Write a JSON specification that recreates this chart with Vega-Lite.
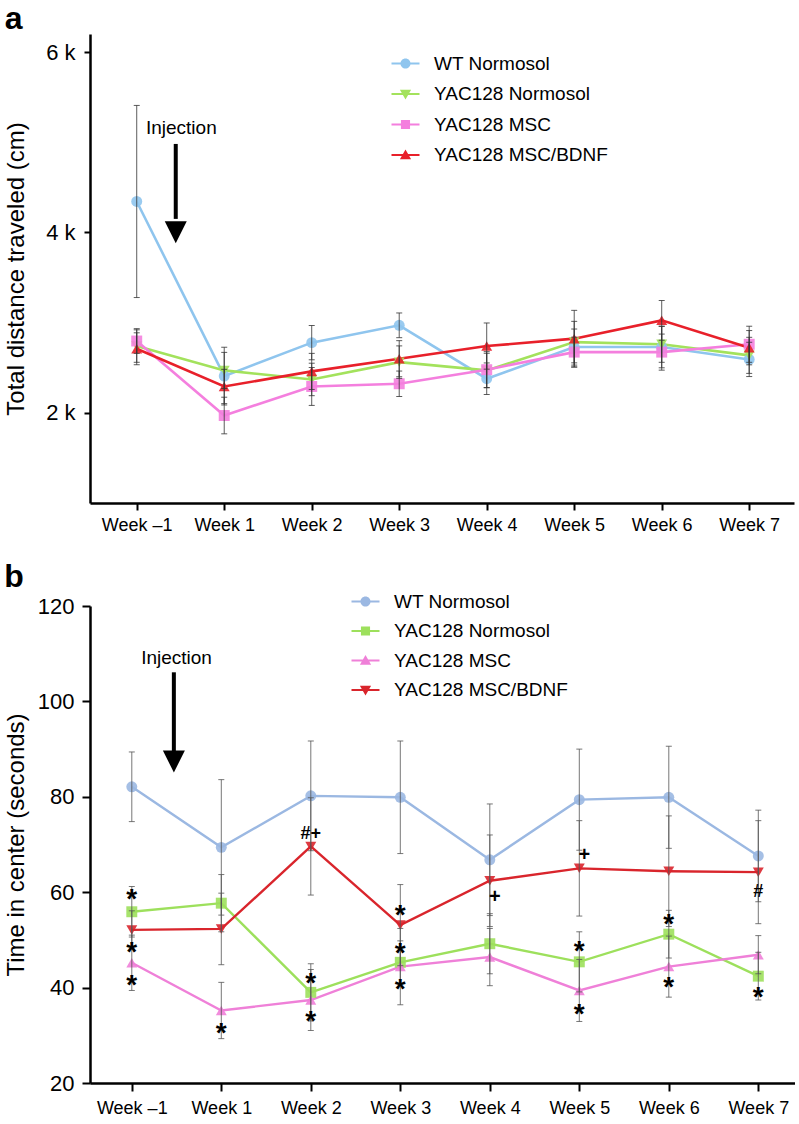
{
  "$schema": "https://vega.github.io/schema/vega-lite/v6.json",
  "padding": {"left": 4, "top": 3, "right": 0, "bottom": 0},
  "config": {
    "font": "Liberation Sans",
    "view": {"stroke": null},
    "axis": {"grid": false, "domainColor": "black", "domainWidth": 2.5, "tickColor": "black", "tickWidth": 2, "labelColor": "black", "titleColor": "black", "titleFontWeight": "normal", "labelFont": "Liberation Sans", "titleFont": "Liberation Sans"},
    "legend": {"labelFont": "Liberation Sans", "labelColor": "black", "labelLimit": 0}
  },
  "datasets": {
    "a": [
      {"wk": 0, "s": "WT Normosol", "v": 4343, "lo": 3278, "hi": 5408},
      {"wk": 1, "s": "WT Normosol", "v": 2407, "lo": 2087, "hi": 2727},
      {"wk": 2, "s": "WT Normosol", "v": 2778, "lo": 2588, "hi": 2968},
      {"wk": 3, "s": "WT Normosol", "v": 2970, "lo": 2833, "hi": 3107},
      {"wk": 4, "s": "WT Normosol", "v": 2378, "lo": 2203, "hi": 2553},
      {"wk": 5, "s": "WT Normosol", "v": 2729, "lo": 2529, "hi": 2929},
      {"wk": 6, "s": "WT Normosol", "v": 2729, "lo": 2499, "hi": 2959},
      {"wk": 7, "s": "WT Normosol", "v": 2592, "lo": 2402, "hi": 2782},
      {"wk": 0, "s": "YAC128 Normosol", "v": 2740, "lo": 2560, "hi": 2920},
      {"wk": 1, "s": "YAC128 Normosol", "v": 2470, "lo": 2270, "hi": 2670},
      {"wk": 2, "s": "YAC128 Normosol", "v": 2370, "lo": 2190, "hi": 2550},
      {"wk": 3, "s": "YAC128 Normosol", "v": 2562, "lo": 2382, "hi": 2742},
      {"wk": 4, "s": "YAC128 Normosol", "v": 2470, "lo": 2280, "hi": 2660},
      {"wk": 5, "s": "YAC128 Normosol", "v": 2784, "lo": 2554, "hi": 3014},
      {"wk": 6, "s": "YAC128 Normosol", "v": 2760, "lo": 2560, "hi": 2960},
      {"wk": 7, "s": "YAC128 Normosol", "v": 2637, "lo": 2437, "hi": 2837},
      {"wk": 0, "s": "YAC128 MSC", "v": 2796, "lo": 2659, "hi": 2933},
      {"wk": 1, "s": "YAC128 MSC", "v": 1970, "lo": 1767, "hi": 2173},
      {"wk": 2, "s": "YAC128 MSC", "v": 2292, "lo": 2082, "hi": 2502},
      {"wk": 3, "s": "YAC128 MSC", "v": 2322, "lo": 2181, "hi": 2463},
      {"wk": 4, "s": "YAC128 MSC", "v": 2478, "lo": 2278, "hi": 2678},
      {"wk": 5, "s": "YAC128 MSC", "v": 2673, "lo": 2507, "hi": 2839},
      {"wk": 6, "s": "YAC128 MSC", "v": 2673, "lo": 2473, "hi": 2873},
      {"wk": 7, "s": "YAC128 MSC", "v": 2760, "lo": 2560, "hi": 2960},
      {"wk": 0, "s": "YAC128 MSC/BDNF", "v": 2710, "lo": 2533, "hi": 2887},
      {"wk": 1, "s": "YAC128 MSC/BDNF", "v": 2292, "lo": 2102, "hi": 2482},
      {"wk": 2, "s": "YAC128 MSC/BDNF", "v": 2459, "lo": 2259, "hi": 2659},
      {"wk": 3, "s": "YAC128 MSC/BDNF", "v": 2600, "lo": 2400, "hi": 2800},
      {"wk": 4, "s": "YAC128 MSC/BDNF", "v": 2740, "lo": 2484, "hi": 2996},
      {"wk": 5, "s": "YAC128 MSC/BDNF", "v": 2822, "lo": 2508, "hi": 3136},
      {"wk": 6, "s": "YAC128 MSC/BDNF", "v": 3025, "lo": 2805, "hi": 3245},
      {"wk": 7, "s": "YAC128 MSC/BDNF", "v": 2722, "lo": 2532, "hi": 2912}
    ],
    "b": [
      {"wk": 0, "s": "WT Normosol", "v": 82.1, "lo": 74.8, "hi": 89.4},
      {"wk": 1, "s": "WT Normosol", "v": 69.4, "lo": 55.2, "hi": 83.6},
      {"wk": 2, "s": "WT Normosol", "v": 80.2, "lo": 68.7, "hi": 91.7},
      {"wk": 3, "s": "WT Normosol", "v": 79.9, "lo": 68.1, "hi": 91.7},
      {"wk": 4, "s": "WT Normosol", "v": 66.8, "lo": 55.1, "hi": 78.5},
      {"wk": 5, "s": "WT Normosol", "v": 79.4, "lo": 68.8, "hi": 90.0},
      {"wk": 6, "s": "WT Normosol", "v": 79.9, "lo": 69.2, "hi": 90.6},
      {"wk": 7, "s": "WT Normosol", "v": 67.6, "lo": 58.0, "hi": 77.2},
      {"wk": 0, "s": "YAC128 Normosol", "v": 55.9, "lo": 50.6, "hi": 61.2},
      {"wk": 1, "s": "YAC128 Normosol", "v": 57.7, "lo": 51.7, "hi": 63.7},
      {"wk": 2, "s": "YAC128 Normosol", "v": 39.0, "lo": 33.0, "hi": 45.0},
      {"wk": 3, "s": "YAC128 Normosol", "v": 45.3, "lo": 40.8, "hi": 49.8},
      {"wk": 4, "s": "YAC128 Normosol", "v": 49.2, "lo": 42.9, "hi": 55.5},
      {"wk": 5, "s": "YAC128 Normosol", "v": 45.4, "lo": 39.1, "hi": 51.7},
      {"wk": 6, "s": "YAC128 Normosol", "v": 51.2, "lo": 46.2, "hi": 56.2},
      {"wk": 7, "s": "YAC128 Normosol", "v": 42.4, "lo": 37.4, "hi": 47.4},
      {"wk": 0, "s": "YAC128 MSC", "v": 45.2, "lo": 39.4, "hi": 51.0},
      {"wk": 1, "s": "YAC128 MSC", "v": 35.2, "lo": 29.3, "hi": 41.1},
      {"wk": 2, "s": "YAC128 MSC", "v": 37.4, "lo": 31.0, "hi": 43.8},
      {"wk": 3, "s": "YAC128 MSC", "v": 44.4, "lo": 36.4, "hi": 52.4},
      {"wk": 4, "s": "YAC128 MSC", "v": 46.4, "lo": 40.4, "hi": 52.4},
      {"wk": 5, "s": "YAC128 MSC", "v": 39.4, "lo": 32.9, "hi": 45.9},
      {"wk": 6, "s": "YAC128 MSC", "v": 44.4, "lo": 38.0, "hi": 50.8},
      {"wk": 7, "s": "YAC128 MSC", "v": 46.9, "lo": 42.9, "hi": 50.9},
      {"wk": 0, "s": "YAC128 MSC/BDNF", "v": 52.1, "lo": 48.1, "hi": 56.1},
      {"wk": 1, "s": "YAC128 MSC/BDNF", "v": 52.3, "lo": 44.8, "hi": 59.8},
      {"wk": 2, "s": "YAC128 MSC/BDNF", "v": 69.6, "lo": 59.4, "hi": 79.8},
      {"wk": 3, "s": "YAC128 MSC/BDNF", "v": 53.1, "lo": 44.6, "hi": 61.6},
      {"wk": 4, "s": "YAC128 MSC/BDNF", "v": 62.4, "lo": 52.8, "hi": 72.0},
      {"wk": 5, "s": "YAC128 MSC/BDNF", "v": 65.0, "lo": 55.0, "hi": 75.0},
      {"wk": 6, "s": "YAC128 MSC/BDNF", "v": 64.4, "lo": 52.8, "hi": 76.0},
      {"wk": 7, "s": "YAC128 MSC/BDNF", "v": 64.2, "lo": 53.4, "hi": 75.0}
    ],
    "arrowA": [{"wk": 0.446, "top": 4981, "base": 4150, "head": 4003}],
    "textA": [{"wk": 0.51, "y": 5159, "t": "Injection"}],
    "arrowB": [{"wk": 0.47, "top": 106.1, "base": 89.5, "head": 87.4}],
    "textB": [{"wk": 0.5, "y": 109.0, "t": "Injection"}],
    "starsB": [
      {"wk": 0, "y": 60.0}, {"wk": 0, "y": 49.0}, {"wk": 0, "y": 42.0},
      {"wk": 1, "y": 32.0},
      {"wk": 2, "y": 42.4}, {"wk": 2, "y": 34.5},
      {"wk": 3, "y": 56.6}, {"wk": 3, "y": 48.7}, {"wk": 3, "y": 41.1},
      {"wk": 5, "y": 49.2}, {"wk": 5, "y": 35.9},
      {"wk": 6, "y": 54.8}, {"wk": 6, "y": 41.6},
      {"wk": 7, "y": 39.4}
    ],
    "symB": [{"wk": 2, "y": 72.5, "t": "#+"}, {"wk": 7, "y": 60.3, "t": "#"}],
    "plusB": [{"wk": 4, "y": 59.3, "t": "+"}, {"wk": 5, "y": 68.1, "t": "+"}]
  },
  "concat": [
    {
      "width": 704,
      "height": 469,
      "title": {"text": "a", "anchor": "start", "frame": "bounds", "fontSize": 32, "fontWeight": "bold", "font": "Liberation Sans", "color": "black", "baseline": "alphabetic", "offset": -27, "dx": 0},
      "encoding": {
        "x": {"field": "wk", "type": "quantitative", "scale": {"domain": [-0.534, 7.512], "nice": false, "zero": false},
          "axis": {"title": null, "values": [0, 1, 2, 3, 4, 5, 6, 7], "labelExpr": "datum.value == 0 ? 'Week \u20131' : 'Week ' + datum.value", "labelFontSize": 18, "tickSize": 7, "labelPadding": 6, "labelFlush": false}}
      },
      "resolve": {"scale": {"shape": "independent", "color": "independent"}},
      "layer": [
        {
          "data": {"name": "a"},
          "mark": {"type": "line", "strokeWidth": 2.6},
          "encoding": {
            "y": {"field": "v", "type": "quantitative", "scale": {"domain": [1000, 6200], "nice": false, "zero": false},
              "axis": {"title": "Total distance traveled (cm)", "titleFontSize": 24, "titlePadding": 17, "values": [2000, 4000, 6000], "labelExpr": "(datum.value/1000) + ' k'", "labelFontSize": 22, "tickSize": 6, "labelPadding": 9}},
            "color": {"field": "s", "type": "nominal", "legend": null,
              "scale": {"domain": ["WT Normosol", "YAC128 Normosol", "YAC128 MSC", "YAC128 MSC/BDNF"], "range": ["#8fc5ee", "#a3e25c", "#f47fde", "#e8202a"]}},
            "detail": {"field": "s"}
          }
        },
        {
          "data": {"name": "a"},
          "mark": {"type": "point", "filled": true, "size": 120, "opacity": 0.9},
          "encoding": {
            "y": {"field": "v", "type": "quantitative"},
            "color": {"field": "s", "type": "nominal", "legend": null,
              "scale": {"domain": ["WT Normosol", "YAC128 Normosol", "YAC128 MSC", "YAC128 MSC/BDNF"], "range": ["#8fc5ee", "#a3e25c", "#f47fde", "#e8202a"]}},
            "shape": {"field": "s", "type": "nominal", "legend": null,
              "scale": {"domain": ["WT Normosol", "YAC128 Normosol", "YAC128 MSC", "YAC128 MSC/BDNF"], "range": ["circle", "triangle-down", "square", "triangle-up"]}}
          }
        },
        {
          "data": {"name": "a"},
          "mark": {"type": "rule", "color": "#333333", "strokeWidth": 1, "opacity": 0.8},
          "encoding": {"y": {"field": "lo", "type": "quantitative"}, "y2": {"field": "hi"}}
        },
        {
          "data": {"name": "a"},
          "mark": {"type": "tick", "orient": "horizontal", "color": "#333333", "size": 6, "thickness": 1, "opacity": 0.8},
          "encoding": {"y": {"field": "lo", "type": "quantitative"}}
        },
        {
          "data": {"name": "a"},
          "mark": {"type": "tick", "orient": "horizontal", "color": "#333333", "size": 6, "thickness": 1, "opacity": 0.8},
          "encoding": {"y": {"field": "hi", "type": "quantitative"}}
        },
        {
          "data": {"name": "arrowA"},
          "mark": {"type": "rule", "color": "black", "strokeWidth": 4},
          "encoding": {"y": {"field": "top", "type": "quantitative"}, "y2": {"field": "base"}}
        },
        {
          "data": {"name": "arrowA"},
          "mark": {"type": "point", "filled": true, "color": "black", "opacity": 1, "size": 484, "shape": "M-1,-1L1,-1L0,1Z"},
          "encoding": {"y": {"field": "head", "type": "quantitative"}}
        },
        {
          "data": {"name": "textA"},
          "mark": {"type": "text", "fontSize": 19, "color": "black", "align": "center", "baseline": "middle"},
          "encoding": {"y": {"field": "y", "type": "quantitative"}, "text": {"field": "t"}}
        },
        {
          "data": {"name": "a"},
          "transform": [{"filter": "false"}],
          "mark": {"type": "point", "filled": true, "opacity": 1},
          "encoding": {
            "color": {"field": "s", "type": "nominal",
              "scale": {"domain": ["WT Normosol", "YAC128 Normosol", "YAC128 MSC", "YAC128 MSC/BDNF"], "range": ["#8fc5ee", "#a3e25c", "#f47fde", "#e8202a"]},
              "legend": {"orient": "none", "legendX": 306, "legendY": 20, "title": null, "symbolSize": 196, "labelFontSize": 19, "labelOffset": 19, "rowPadding": 10.5, "padding": 0, "symbolStrokeWidth": 0, "labelLimit": 0}},
            "shape": {"field": "s", "type": "nominal",
              "scale": {"domain": ["WT Normosol", "YAC128 Normosol", "YAC128 MSC", "YAC128 MSC/BDNF"],
                "range": [
                  "M-2,-0.14H2V0.14H-2Z M0.72,0A0.72,0.72 0 1,1 -0.72,0A0.72,0.72 0 1,1 0.72,0Z",
                  "M-2,-0.14H2V0.14H-2Z M-0.8,-0.6L0.8,-0.6L0,0.8Z",
                  "M-2,-0.14H2V0.14H-2Z M-0.65,-0.65H0.65V0.65H-0.65Z",
                  "M-2,-0.14H2V0.14H-2Z M0,-0.8L0.8,0.6L-0.8,0.6Z"
                ]},
              "legend": {"orient": "none", "legendX": 306, "legendY": 20, "title": null, "symbolSize": 196, "labelFontSize": 19, "labelOffset": 19, "rowPadding": 10.5, "padding": 0, "symbolStrokeWidth": 0, "labelLimit": 0}}
          }
        }
      ]
    },
    {
      "width": 705,
      "height": 477,
      "title": {"text": "b", "anchor": "start", "frame": "bounds", "fontSize": 32, "fontWeight": "bold", "font": "Liberation Sans", "color": "black", "baseline": "alphabetic", "offset": -27, "dx": 0},
      "encoding": {
        "x": {"field": "wk", "type": "quantitative", "scale": {"domain": [-0.467, 7.41], "nice": false, "zero": false},
          "axis": {"title": null, "values": [0, 1, 2, 3, 4, 5, 6, 7], "labelExpr": "datum.value == 0 ? 'Week \u20131' : 'Week ' + datum.value", "labelFontSize": 18, "tickSize": 8, "labelPadding": 8, "labelFlush": false}}
      },
      "resolve": {"scale": {"shape": "independent", "color": "independent"}},
      "layer": [
        {
          "data": {"name": "b"},
          "mark": {"type": "line", "strokeWidth": 2.4},
          "encoding": {
            "y": {"field": "v", "type": "quantitative", "scale": {"domain": [20, 120], "nice": false, "zero": false},
              "axis": {"title": "Time in center (seconds)", "titleFontSize": 24, "titlePadding": 9, "values": [20, 40, 60, 80, 100, 120], "labelFontSize": 22, "tickSize": 8, "labelPadding": 8}},
            "color": {"field": "s", "type": "nominal", "legend": null,
              "scale": {"domain": ["WT Normosol", "YAC128 Normosol", "YAC128 MSC", "YAC128 MSC/BDNF"], "range": ["#9bb8e2", "#9de05c", "#ef80d8", "#d9252c"]}},
            "detail": {"field": "s"}
          }
        },
        {
          "data": {"name": "b"},
          "mark": {"type": "point", "filled": true, "size": 120, "opacity": 0.9},
          "encoding": {
            "y": {"field": "v", "type": "quantitative"},
            "color": {"field": "s", "type": "nominal", "legend": null,
              "scale": {"domain": ["WT Normosol", "YAC128 Normosol", "YAC128 MSC", "YAC128 MSC/BDNF"], "range": ["#9bb8e2", "#9de05c", "#ef80d8", "#d9252c"]}},
            "shape": {"field": "s", "type": "nominal", "legend": null,
              "scale": {"domain": ["WT Normosol", "YAC128 Normosol", "YAC128 MSC", "YAC128 MSC/BDNF"], "range": ["circle", "square", "triangle-up", "triangle-down"]}}
          }
        },
        {
          "data": {"name": "b"},
          "mark": {"type": "rule", "color": "#555555", "strokeWidth": 1, "opacity": 0.8},
          "encoding": {"y": {"field": "lo", "type": "quantitative"}, "y2": {"field": "hi"}}
        },
        {
          "data": {"name": "b"},
          "mark": {"type": "tick", "orient": "horizontal", "color": "#555555", "size": 6, "thickness": 1, "opacity": 0.8},
          "encoding": {"y": {"field": "lo", "type": "quantitative"}}
        },
        {
          "data": {"name": "b"},
          "mark": {"type": "tick", "orient": "horizontal", "color": "#555555", "size": 6, "thickness": 1, "opacity": 0.8},
          "encoding": {"y": {"field": "hi", "type": "quantitative"}}
        },
        {
          "data": {"name": "starsB"},
          "mark": {"type": "text", "text": "*", "fontSize": 28, "fontWeight": "bold", "color": "black", "align": "center", "baseline": "alphabetic", "dy": 16},
          "encoding": {"y": {"field": "y", "type": "quantitative"}}
        },
        {
          "data": {"name": "symB"},
          "mark": {"type": "text", "fontSize": 18, "fontWeight": "bold", "color": "black", "align": "center", "baseline": "alphabetic", "dy": 6},
          "encoding": {"y": {"field": "y", "type": "quantitative"}, "text": {"field": "t"}}
        },
        {
          "data": {"name": "plusB"},
          "mark": {"type": "text", "fontSize": 20, "fontWeight": "bold", "color": "black", "align": "center", "baseline": "alphabetic", "dy": 7, "dx": 5},
          "encoding": {"y": {"field": "y", "type": "quantitative"}, "text": {"field": "t"}}
        },
        {
          "data": {"name": "arrowB"},
          "mark": {"type": "rule", "color": "black", "strokeWidth": 4},
          "encoding": {"y": {"field": "top", "type": "quantitative"}, "y2": {"field": "base"}}
        },
        {
          "data": {"name": "arrowB"},
          "mark": {"type": "point", "filled": true, "color": "black", "opacity": 1, "size": 484, "shape": "M-1,-1L1,-1L0,1Z"},
          "encoding": {"y": {"field": "head", "type": "quantitative"}}
        },
        {
          "data": {"name": "textB"},
          "mark": {"type": "text", "fontSize": 19, "color": "black", "align": "center", "baseline": "middle"},
          "encoding": {"y": {"field": "y", "type": "quantitative"}, "text": {"field": "t"}}
        },
        {
          "data": {"name": "b"},
          "transform": [{"filter": "false"}],
          "mark": {"type": "point", "filled": true, "opacity": 1},
          "encoding": {
            "color": {"field": "s", "type": "nominal",
              "scale": {"domain": ["WT Normosol", "YAC128 Normosol", "YAC128 MSC", "YAC128 MSC/BDNF"], "range": ["#9bb8e2", "#9de05c", "#ef80d8", "#d9252c"]},
              "legend": {"orient": "none", "legendX": 266, "legendY": -14, "title": null, "symbolSize": 196, "labelFontSize": 19, "labelOffset": 19, "rowPadding": 9.5, "padding": 0, "symbolStrokeWidth": 0, "labelLimit": 0}},
            "shape": {"field": "s", "type": "nominal",
              "scale": {"domain": ["WT Normosol", "YAC128 Normosol", "YAC128 MSC", "YAC128 MSC/BDNF"],
                "range": [
                  "M-2,-0.14H2V0.14H-2Z M0.72,0A0.72,0.72 0 1,1 -0.72,0A0.72,0.72 0 1,1 0.72,0Z",
                  "M-2,-0.14H2V0.14H-2Z M-0.65,-0.65H0.65V0.65H-0.65Z",
                  "M-2,-0.14H2V0.14H-2Z M0,-0.8L0.8,0.6L-0.8,0.6Z",
                  "M-2,-0.14H2V0.14H-2Z M-0.8,-0.6L0.8,-0.6L0,0.8Z"
                ]},
              "legend": {"orient": "none", "legendX": 266, "legendY": -14, "title": null, "symbolSize": 196, "labelFontSize": 19, "labelOffset": 19, "rowPadding": 9.5, "padding": 0, "symbolStrokeWidth": 0, "labelLimit": 0}}
          }
        }
      ]
    }
  ],
  "columns": 1,
  "align": "none",
  "spacing": 27
}
